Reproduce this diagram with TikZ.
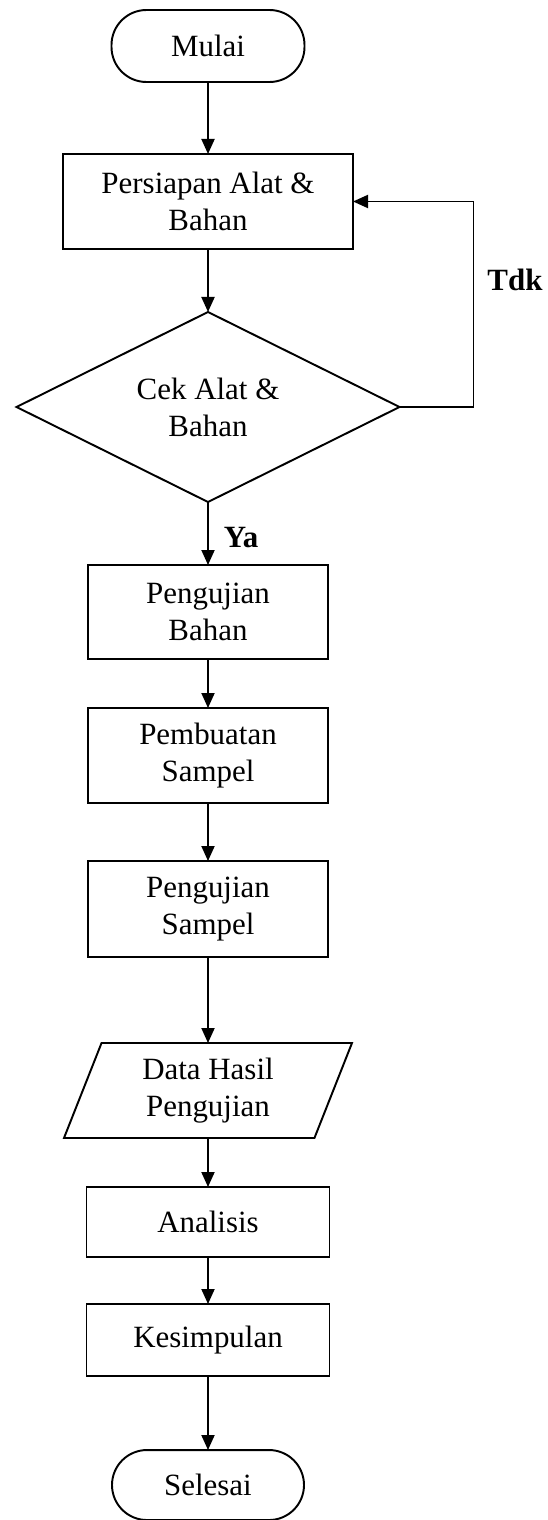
\documentclass[tikz,border=0pt]{standalone}
\usepackage{fontspec}
\setmainfont{Liberation Serif}
\usetikzlibrary{arrows.meta, positioning, shapes.geometric}
\newcommand{\flfont}{\fontsize{17.6}{21}\selectfont}
\tikzset{
  term/.style={draw, line width=1.1pt, rounded corners=0.7cm, align=center,
    minimum width=3.86cm, minimum height=1.44cm, inner sep=0pt, outer sep=0pt, font=\flfont},
  pbox/.style={draw, line width=1.1pt, align=center,
    minimum width=4.8cm, minimum height=1.88cm, inner sep=0pt, outer sep=0pt, font=\flfont},
  dbox/.style={draw, diamond, aspect=2, line width=1.1pt, align=center,
    minimum width=7.66cm, minimum height=3.8cm, inner sep=0pt, outer sep=0pt, font=\flfont},
  iobox/.style={draw, trapezium, trapezium left angle=60, trapezium right angle=120,
    trapezium stretches body, line width=1.1pt, align=center,
    minimum width=5.76cm, minimum height=1.9cm, inner sep=0pt, outer sep=0pt, font=\flfont},
  lbl/.style={font=\flfont\bfseries, inner sep=0pt},
  flow/.style={-{Triangle[length=0.3cm, width=0.26cm]}, line width=1.1pt},
}
\begin{document}
\begin{tikzpicture}
  \useasboundingbox (0,0) rectangle (10.94,-30.4);
    \node[term] (mulai) at (4.16,-0.92) {Mulai};
    \node[pbox, below=1.44cm of mulai, minimum width=5.8cm, minimum height=1.9cm] (prep) {Persiapan Alat \&\\Bahan};
    \node[dbox, below=1.26cm of prep] (cek) {Cek Alat \&\\Bahan};
    \node[pbox, below=1.26cm of cek] (ujib) {Pengujian\\Bahan};
    \node[pbox, below=0.98cm of ujib, minimum height=1.9cm] (buat) {Pembuatan\\Sampel};
    \node[pbox, below=1.16cm of buat, minimum height=1.92cm] (ujis) {Pengujian\\Sampel};
    \node[iobox, below=1.72cm of ujis] (data) {Data Hasil\\Pengujian};
    \node[pbox, below=0.98cm of data, minimum width=4.86cm, minimum height=1.4cm] (anls) {Analisis};
    \node[pbox, below=0.94cm of anls, minimum width=4.86cm, minimum height=1.44cm] (simp) {Kesimpulan};
    \node[term, below=1.48cm of simp, minimum width=3.84cm, minimum height=1.4cm] (sls) {Selesai};
    \coordinate[right=1.48cm of cek.east] (back);
    \draw[flow] (mulai) -- (prep); \draw[flow] (prep) -- (cek);
    \draw[flow] (cek) -- node[lbl, pos=0.57, right=0.3cm] (ya) {Ya} (ujib);
    \draw[flow] (cek.east) -- (back) |- node[lbl, pos=0.31, right=0.26cm] (tdk) {Tdk} (prep.east);
    \draw[flow] (ujib) -- (buat); \draw[flow] (buat) -- (ujis); \draw[flow] (ujis) -- (data);
    \draw[flow] (data) -- (anls); \draw[flow] (anls) -- (simp); \draw[flow] (simp) -- (sls);
  \end{tikzpicture}
\end{document}
